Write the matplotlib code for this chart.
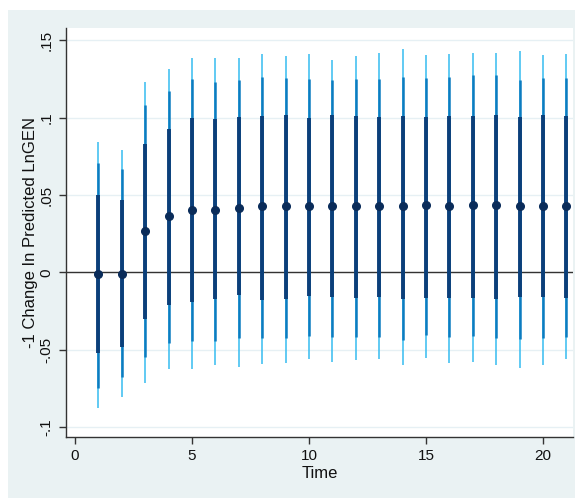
import matplotlib
matplotlib.use('Agg')
import matplotlib.pyplot as plt
from matplotlib.patches import Rectangle

plt.rcParams['font.family'] = ['Liberation Sans', 'DejaVu Sans']

# point estimates and three nested confidence bands, by period
time = list(range(1, 22))
est = [-0.0013, -0.0009, 0.0265, 0.0363, 0.0402, 0.0400, 0.0417,
       0.0426, 0.0426, 0.0426, 0.0426, 0.0426, 0.0426, 0.0426,
       0.0437, 0.0426, 0.0437, 0.0437, 0.0426, 0.0426, 0.0426]

hi90 = [0.0497, 0.0467, 0.0830, 0.0929, 0.1000, 0.0991, 0.1004,
        0.1013, 0.1019, 0.1000, 0.1019, 0.1013, 0.1004, 0.1013,
        0.1004, 0.1013, 0.1013, 0.1019, 0.1004, 0.1019, 0.1013]
lo90 = [-0.0525, -0.0482, -0.0303, -0.0211, -0.0194, -0.0172, -0.0148,
        -0.0181, -0.0174, -0.0151, -0.0157, -0.0166, -0.0157, -0.0174,
        -0.0166, -0.0166, -0.0166, -0.0174, -0.0157, -0.0157, -0.0166]

hi95 = [0.0705, 0.0665, 0.1082, 0.1174, 0.1252, 0.1230, 0.1245,
        0.1265, 0.1258, 0.1252, 0.1245, 0.1252, 0.1252, 0.1265,
        0.1258, 0.1265, 0.1277, 0.1277, 0.1245, 0.1258, 0.1258]
lo95 = [-0.0748, -0.0677, -0.0548, -0.0458, -0.0447, -0.0447, -0.0426,
        -0.0428, -0.0428, -0.0413, -0.0419, -0.0419, -0.0419, -0.0439,
        -0.0406, -0.0419, -0.0413, -0.0428, -0.0434, -0.0428, -0.0419]

hi99 = [0.0841, 0.0789, 0.1228, 0.1312, 0.1383, 0.1389, 0.1389,
        0.1411, 0.1398, 0.1411, 0.1374, 0.1398, 0.1421, 0.1443,
        0.1406, 0.1411, 0.1421, 0.1421, 0.1430, 0.1406, 0.1411]
lo99 = [-0.0880, -0.0809, -0.0718, -0.0624, -0.0624, -0.0602, -0.0611,
        -0.0594, -0.0587, -0.0563, -0.0578, -0.0570, -0.0563, -0.0602,
        -0.0557, -0.0587, -0.0578, -0.0602, -0.0617, -0.0602, -0.0563]

yticks = [-0.1, -0.05, 0, 0.05, 0.1, 0.15]
ytick_labels = ['-.1', '-.05', '0', '.05', '.1', '.15']
xticks = [0, 5, 10, 15, 20]

W, H = 578, 498
fig = plt.figure(figsize=(W / 100, H / 100), dpi=100)
fig.patch.set_facecolor('white')
fig.patches.append(Rectangle((8 / W, 0), (575 - 8) / W, (H - 10) / H,
                             transform=fig.transFigure, facecolor='#EAF2F3',
                             edgecolor='none', zorder=-10))

ax = fig.add_axes([66 / W, (H - 437) / H, (573 - 66) / W, (437 - 28) / H])
ax.set_facecolor('white')

for y in yticks:
    ax.axhline(y, color='#E6F0F4', lw=1.0, zorder=1)
ax.axhline(0, color='#333333', lw=1.0, zorder=2)

ax.vlines(time, lo99, hi99, color='#45C1F1', lw=1.2, zorder=3)
ax.vlines(time, lo95, hi95, color='#0C7CC0', lw=1.8, zorder=4)
ax.vlines(time, lo90, hi90, color='#0B3F7A', lw=2.8, zorder=5)
ax.plot(time, est, 'o', color='#0A2C5A', ms=5.5, zorder=6)

ax.set_xlim(-0.385, 21.28)
ax.set_ylim(-0.1065, 0.158)

ax.set_yticks(yticks)
ax.set_yticklabels(ytick_labels, rotation=90, va='center')
ax.set_xticks(xticks)
ax.tick_params(axis='both', direction='out', length=5, width=1,
               color='#333333', labelsize=11, labelcolor='#111111')
ax.tick_params(axis='y', pad=4)

for side in ['top', 'right']:
    ax.spines[side].set_visible(False)
for side in ['left', 'bottom']:
    ax.spines[side].set_color('#333333')
    ax.spines[side].set_linewidth(1.0)

ax.set_xlabel('Time', fontsize=12, labelpad=2, color='#111111')
ax.set_ylabel('-1 Change In Predicted LnGEN', fontsize=12, labelpad=1,
              color='#111111')

fig.savefig('out.png', dpi=100)
